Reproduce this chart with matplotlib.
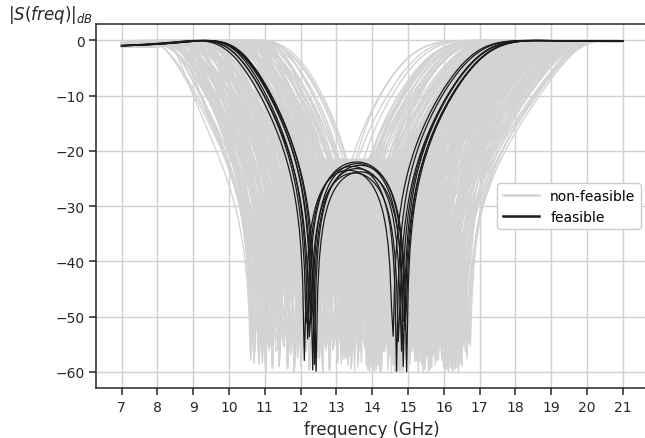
import numpy as np
import matplotlib.pyplot as plt

# feasible designs: lower / upper notch (GHz) and peak between notches (dB)
feas_lo = [12.11, 12.17, 12.21, 12.26, 12.31, 12.34, 12.38, 12.43]
feas_hi = [14.57, 14.68, 14.93, 14.74, 14.87, 14.81, 14.96, 14.89]
feas_peak = [-23.5, -22.8, -22.0, -24.0, -22.3, -23.2, -22.6, -23.8]

# non-feasible designs: lower notch, notch spacing, peak level
gray_lo = [10.62, 10.71, 10.83, 10.92, 11.03, 11.14, 11.22, 11.33, 11.41, 11.52,
           11.63, 11.71, 11.82, 11.93, 12.02, 12.13, 12.24, 12.32, 12.43, 12.51,
           12.62, 12.73, 12.81, 12.92, 13.03, 13.12, 13.21, 13.33, 13.42, 13.53,
           13.61, 13.72]
gray_span = [2.3, 2.55, 2.8, 3.05, 3.3, 3.55, 3.8]
gray_peak = [-24, -27, -22, -25.5, -29, -23, -21.5, -26.5, -28, -24.5, -22.5]

freq = np.linspace(7.0, 21.0, 300)


def response(f, lo, hi, peak, e=0.03):
    # two-notch band-stop shape, |S| in dB
    mid = 0.5 * (lo + hi)
    half = 0.5 * (hi - lo)
    dl = 5.2 - 0.7 * half
    dr = 3.5 + 1.2 * half
    u = (f - mid) / half
    p = np.where(f < mid, dl, dr) / half
    c = np.sqrt(1 / (10 ** (-peak / 10) - 1))
    with np.errstate(divide='ignore', invalid='ignore'):
        k_in = c * (u ** 2 - 1) * (1 + e * u ** 2) / (1 - (u / p) ** 2)
        dist = np.abs(np.abs(u) - p) * half
        k_out = np.where(f < mid, 1.4, 4.0) * (1 + 1.0 / dist)
    K = np.where(np.abs(u) < p, k_in, k_out)
    return 10 * np.log10(K ** 2 / (1 + K ** 2) + 1e-6)


fig = plt.figure(figsize=(6.45, 4.39), dpi=100)
ax = fig.add_axes([0.1496, 0.1132, 0.855, 0.830])

k = 0
for i, lo in enumerate(gray_lo):
    for j, sp in enumerate(gray_span):
        hi = lo + sp
        if hi > 16.75:
            continue
        pk = gray_peak[(3 * i + j) % len(gray_peak)]
        ax.plot(freq, response(freq, lo, hi, pk), color='#d3d3d3', lw=1.0,
                label='non-feasible' if k == 0 else None, zorder=2)
        k += 1

for n in range(len(feas_lo)):
    ax.plot(freq, response(freq, feas_lo[n], feas_hi[n], feas_peak[n]),
            color='#1a1a1a', lw=0.9, label='feasible' if n == 0 else None, zorder=3)

ax.set_xlim(6.3, 21.7)
ax.set_ylim(-63, 3)
ax.set_xticks(np.arange(7, 22, 1))
ax.set_yticks([0, -10, -20, -30, -40, -50, -60])
ax.set_yticklabels(['0', '\u221210', '\u221220', '\u221230', '\u221240', '\u221250', '\u221260'])
ax.grid(True, color='#d0d0d0', lw=1.0)
ax.set_axisbelow(True)
ax.spines['right'].set_visible(False)
for s in ['left', 'bottom', 'top']:
    ax.spines[s].set_color('#262626')
    ax.spines[s].set_linewidth(1.1)
ax.tick_params(direction='out', length=5, width=1.1, color='#262626',
               labelcolor='#262626', labelsize=10)
ax.set_xlabel('frequency (GHz)', fontsize=12, color='#262626')
fig.text(0.012, 0.955, r'$|S(freq)|_{dB}$', fontsize=12, color='#262626')

leg = ax.legend(loc='center right', fontsize=10, handlelength=2.6, framealpha=1)
for h in leg.get_lines():
    h.set_linewidth(1.8)

plt.savefig('out.png', dpi=100)
